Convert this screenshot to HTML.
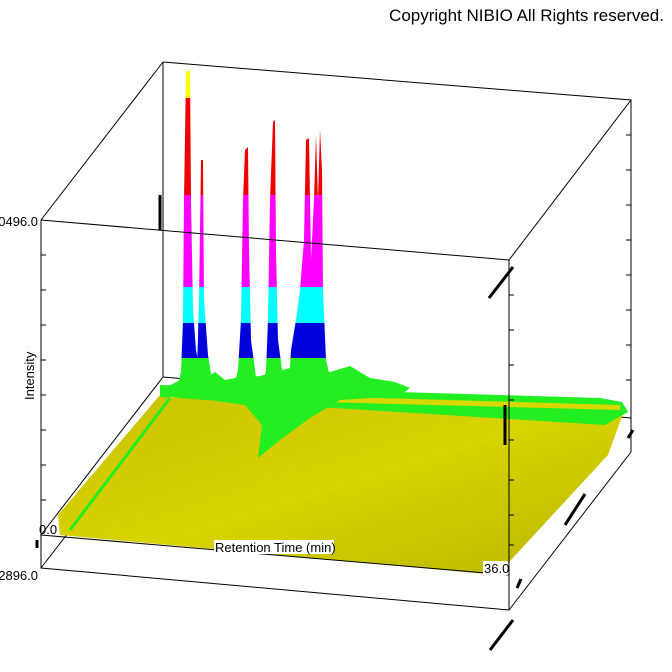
<!DOCTYPE html>
<html><head><meta charset="utf-8"><style>
html,body{margin:0;padding:0;background:#fff;}
svg{display:block;font-family:"Liberation Sans",Arial,sans-serif;}
</style></head><body>
<svg width="672" height="672" viewBox="0 0 672 672" xmlns="http://www.w3.org/2000/svg">
<defs>
<linearGradient id="pk" gradientUnits="userSpaceOnUse" x1="0" y1="60" x2="0" y2="400">
<stop offset="0" stop-color="#ffff00"/><stop offset="0.112" stop-color="#ffff00"/>
<stop offset="0.112" stop-color="#ee0000"/><stop offset="0.397" stop-color="#ee0000"/>
<stop offset="0.397" stop-color="#ff00ff"/><stop offset="0.668" stop-color="#ff00ff"/>
<stop offset="0.668" stop-color="#00ffff"/><stop offset="0.774" stop-color="#00ffff"/>
<stop offset="0.774" stop-color="#0000dd"/><stop offset="0.876" stop-color="#0000dd"/>
<stop offset="0.876" stop-color="#22ee22"/><stop offset="1" stop-color="#22ee22"/>
</linearGradient>
<linearGradient id="fl" x1="0" y1="0" x2="1" y2="1">
<stop offset="0" stop-color="#c8c000"/><stop offset="0.5" stop-color="#d8d400"/><stop offset="1" stop-color="#b8b400"/>
</linearGradient>
</defs>
<text x="664" y="21" font-size="17" text-anchor="end" fill="#000">Copyright NIBIO All Rights reserved.</text>
<g stroke="#000" stroke-width="1" fill="none">
<polyline points="163,62 163,377"/>
<polyline points="163,62 631,100 631,452"/>
<polyline points="163,377 631,418"/>
<line x1="41" y1="220" x2="163" y2="62"/>
<line x1="509" y1="260" x2="631" y2="100"/>
<line x1="41" y1="568" x2="163" y2="410"/>
<line x1="509" y1="610" x2="631" y2="452"/>
<line x1="41" y1="535" x2="163" y2="377"/>
</g>
<!-- floor -->
<polygon points="58,515 160,395 625,408 608,455 497,575 60,535" fill="url(#fl)"/>
<polygon points="160,385 600,398 622,402 628,412 605,425 160,397" fill="#22ee22"/>
<polygon points="170,392 620,405 620,410 170,398" fill="#d8d800"/>
<line x1="70" y1="530" x2="170" y2="398" stroke="#22ee22" stroke-width="3"/>
<!-- green base region -->
<polygon points="165,388 180,380 200,382 215,372 225,380 235,378 260,376 290,368 330,372 350,366 370,378 395,382 410,388 400,396 340,400 310,418 280,440 258,458 262,425 245,405 210,400 180,398 166,396" fill="#22ee22"/>
<!-- peaks -->
<g fill="url(#pk)">
<polygon points="176,394 181,372 183,320 184,200 186,72 190,70 191,200 193,310 196,350 204,392"/>
<polygon points="194,394 197,370 199,300 201,160 203,160 204,300 208,355 214,392"/>
<polygon points="232,394 238,370 241,320 243,200 245,150 248,147 249,250 251,340 258,392"/>
<polygon points="262,394 266,370 268,320 270,200 273,122 275,120 276,250 278,340 285,392"/>
<polygon points="288,400 291,350 296,320 300,290 304,240 306,140 309,138 311,260 314,200 316,135 318,200 320,130 322,170 323,290 326,360 334,394"/>
</g>
<!-- front box -->
<g stroke="#000" stroke-width="1" fill="none">
<polyline points="41,220 509,260 509,610 41,568 41,220"/>
<line x1="41" y1="535" x2="509" y2="575"/>
</g>
<g stroke="#000" stroke-width="1">
<line x1="41" y1="255" x2="46" y2="255"/><line x1="41" y1="290" x2="46" y2="290"/>
<line x1="41" y1="325" x2="46" y2="325"/><line x1="41" y1="360" x2="46" y2="360"/>
<line x1="41" y1="395" x2="46" y2="395"/><line x1="41" y1="430" x2="46" y2="430"/>
<line x1="41" y1="465" x2="46" y2="465"/><line x1="41" y1="500" x2="46" y2="500"/>
<line x1="509" y1="295" x2="514" y2="295"/><line x1="509" y1="330" x2="514" y2="330"/>
<line x1="509" y1="365" x2="514" y2="365"/><line x1="509" y1="400" x2="514" y2="400"/>
<line x1="509" y1="440" x2="514" y2="440"/><line x1="509" y1="480" x2="514" y2="480"/>
<line x1="509" y1="515" x2="514" y2="515"/><line x1="509" y1="545" x2="514" y2="545"/>
<line x1="631" y1="135" x2="626" y2="135"/><line x1="631" y1="170" x2="626" y2="170"/>
<line x1="631" y1="205" x2="626" y2="205"/><line x1="631" y1="240" x2="626" y2="240"/>
<line x1="631" y1="275" x2="626" y2="275"/><line x1="631" y1="310" x2="626" y2="310"/>
<line x1="631" y1="345" x2="626" y2="345"/><line x1="631" y1="380" x2="626" y2="380"/>
</g>
<g stroke="#000" stroke-width="3">
<line x1="489" y1="298" x2="513" y2="267"/>
<line x1="490" y1="650" x2="513" y2="620"/>
<line x1="565" y1="525" x2="585" y2="494"/>
<line x1="517" y1="588" x2="521" y2="579"/>
<line x1="628" y1="438" x2="633" y2="430"/>
<line x1="37" y1="548" x2="37" y2="540"/>
<line x1="505" y1="405" x2="505" y2="445"/>
<line x1="160" y1="230" x2="160" y2="195"/>
</g>
<text x="38" y="226" font-size="13" text-anchor="end">0496.0</text>
<text x="38" y="580" font-size="13" text-anchor="end">2896.0</text>
<text x="39" y="534" font-size="13">0.0</text>
<rect x="214" y="540" width="120" height="14" fill="#fff"/>
<text x="215" y="552" font-size="13">Retention Time (min)</text>
<rect x="483" y="561" width="25" height="14" fill="#fff"/>
<text x="484" y="573" font-size="13">36.0</text>
<text transform="translate(34,400) rotate(-90)" font-size="13">Intensity</text>
</svg>
</body></html>
